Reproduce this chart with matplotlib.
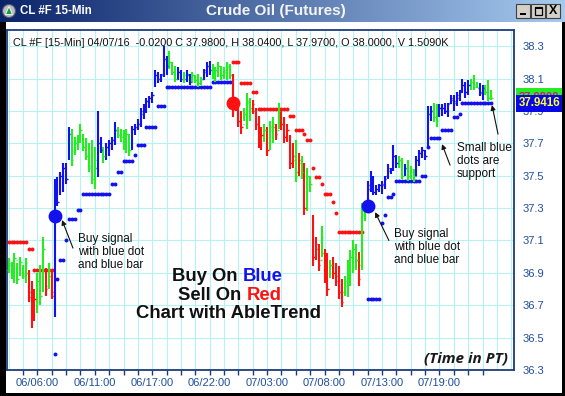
import numpy as np
import matplotlib
matplotlib.use("Agg")
import matplotlib.pyplot as plt
from matplotlib.patches import Rectangle, Circle, Polygon
from matplotlib.transforms import Affine2D

plt.rcParams['font.family'] = ['Liberation Sans', 'DejaVu Sans']

# 15-min bars (one value per bar)
highs = [36.99, 36.97, 37.02, 36.96, 37.00, 36.95, 36.99, 36.92, 36.85, 36.80,
         36.90, 36.95, 37.12, 36.93, 36.96, 36.92, 37.48, 37.49, 37.52, 37.58,
         37.58, 37.80, 37.79, 37.74, 37.75, 37.82, 37.76, 37.73, 37.70, 37.72,
         37.68, 37.90, 37.74, 37.68, 37.70, 37.72, 37.74, 37.83, 37.80, 37.79,
         37.78, 37.79, 37.76, 37.81, 37.82, 37.85, 37.92, 37.94, 37.98, 37.99,
         38.02, 38.15, 38.14, 38.13, 38.30, 38.24, 38.27, 38.20, 38.18, 38.17,
         38.15, 38.14, 38.15, 38.13, 38.14, 38.12, 38.13, 38.11, 38.16, 38.20,
         38.21, 38.19, 38.17, 38.20, 38.18, 38.17, 38.20, 38.19, 38.13, 37.98,
         37.96, 37.90, 37.92, 38.01, 37.98, 37.97, 37.92, 37.87, 37.80, 37.82,
         37.80, 37.84, 37.86, 37.82, 37.95, 37.91, 37.86, 37.82, 37.75, 37.70,
         37.72, 37.64, 37.62, 37.58, 37.55, 37.50, 37.26, 37.12, 37.08, 37.19,
         37.05, 37.02, 36.98, 37.00, 36.96, 36.94, 36.86, 36.88, 36.98, 37.04,
         37.10, 37.08, 37.03, 37.33, 37.30, 37.47, 37.53, 37.50, 37.44, 37.45,
         37.47, 37.50, 37.57, 37.55, 37.69, 37.63, 37.62, 37.61, 37.57, 37.60,
         37.56, 37.54, 37.62, 37.66, 37.68, 37.66, 37.93, 37.93, 37.95, 37.94,
         37.94, 37.94, 37.95, 37.95, 38.00, 38.00, 38.02, 38.03, 38.10, 38.08,
         38.09, 38.10, 38.12, 38.08, 38.07, 38.06, 38.06, 38.09, 38.03]
lows = [36.90, 36.86, 36.84, 36.83, 36.88, 36.86, 36.84, 36.72, 36.56, 36.60,
        36.65, 36.70, 36.78, 36.76, 36.80, 36.74, 36.63, 37.31, 37.38, 37.40,
        37.45, 37.60, 37.56, 37.63, 37.66, 37.70, 37.65, 37.60, 37.52, 37.45,
        37.42, 37.49, 37.64, 37.58, 37.60, 37.62, 37.66, 37.69, 37.73, 37.71,
        37.66, 37.64, 37.62, 37.66, 37.75, 37.78, 37.80, 37.85, 37.89, 37.92,
        37.95, 38.05, 38.07, 38.08, 38.11, 38.12, 38.16, 38.12, 38.08, 38.09,
        38.08, 38.07, 38.08, 38.06, 38.07, 38.07, 38.05, 38.06, 38.09, 38.11,
        38.12, 38.10, 38.08, 38.11, 38.09, 38.10, 38.09, 38.10, 37.86, 37.90,
        37.80, 37.76, 37.84, 37.79, 37.84, 37.88, 37.78, 37.67, 37.66, 37.71,
        37.62, 37.66, 37.70, 37.72, 37.79, 37.78, 37.70, 37.71, 37.54, 37.55,
        37.46, 37.50, 37.48, 37.26, 37.28, 37.40, 36.94, 36.98, 36.91, 37.00,
        36.84, 36.76, 36.87, 36.86, 36.82, 36.74, 36.69, 36.76, 36.75, 36.82,
        36.90, 36.92, 36.82, 36.92, 37.22, 37.30, 37.40, 37.38, 37.38, 37.40,
        37.39, 37.42, 37.48, 37.51, 37.53, 37.55, 37.55, 37.48, 37.50, 37.47,
        37.48, 37.46, 37.50, 37.56, 37.61, 37.60, 37.68, 37.84, 37.83, 37.80,
        37.86, 37.87, 37.88, 37.86, 37.94, 37.90, 37.93, 37.96, 38.01, 37.98,
        38.00, 38.03, 38.03, 38.04, 37.99, 37.97, 38.00, 37.96, 37.97]
opens = [36.92, 36.95, 36.88, 36.98, 36.90, 36.94, 36.88, 36.90, 36.78, 36.63,
         36.70, 36.84, 36.80, 36.90, 36.82, 36.88, 36.76, 37.40, 37.40, 37.45,
         37.55, 37.62, 37.76, 37.65, 37.70, 37.72, 37.76, 37.70, 37.62, 37.55,
         37.48, 37.55, 37.70, 37.66, 37.62, 37.66, 37.70, 37.72, 37.78, 37.75,
         37.74, 37.70, 37.75, 37.68, 37.78, 37.80, 37.82, 37.88, 37.92, 37.95,
         37.97, 38.06, 38.12, 38.10, 38.13, 38.22, 38.18, 38.18, 38.14, 38.10,
         38.13, 38.10, 38.10, 38.12, 38.08, 38.11, 38.10, 38.08, 38.10, 38.14,
         38.18, 38.15, 38.12, 38.15, 38.17, 38.12, 38.14, 38.17, 38.12, 37.93,
         37.94, 37.85, 37.82, 37.86, 37.95, 37.92, 37.90, 37.82, 37.70, 37.74,
         37.76, 37.68, 37.78, 37.80, 37.78, 37.88, 37.82, 37.75, 37.72, 37.60,
         37.60, 37.52, 37.58, 37.52, 37.32, 37.48, 37.22, 37.00, 37.05, 36.98,
         37.02, 36.90, 36.88, 36.95, 36.90, 36.88, 36.78, 36.78, 36.82, 36.90,
         36.98, 37.02, 36.98, 36.95, 37.26, 37.32, 37.42, 37.46, 37.40, 37.41,
         37.42, 37.44, 37.50, 37.53, 37.55, 37.60, 37.58, 37.58, 37.52, 37.55,
         37.50, 37.52, 37.50, 37.58, 37.63, 37.64, 37.70, 37.88, 37.90, 37.86,
         37.88, 37.90, 37.92, 37.90, 37.95, 37.97, 37.96, 37.98, 38.03, 38.05,
         38.02, 38.06, 38.08, 38.06, 38.04, 38.01, 38.03, 38.04, 37.99]
closes = [36.96, 36.88, 36.99, 36.86, 36.97, 36.89, 36.96, 36.75, 36.62, 36.74,
          36.85, 36.76, 37.05, 36.80, 36.92, 36.78, 37.40, 37.34, 37.50, 37.55,
          37.48, 37.76, 37.60, 37.70, 37.72, 37.78, 37.68, 37.62, 37.56, 37.48,
          37.60, 37.70, 37.66, 37.62, 37.68, 37.70, 37.72, 37.78, 37.75, 37.74,
          37.70, 37.76, 37.66, 37.79, 37.80, 37.82, 37.90, 37.92, 37.96, 37.98,
          38.00, 38.12, 38.10, 38.12, 38.22, 38.18, 38.20, 38.14, 38.10, 38.14,
          38.10, 38.12, 38.13, 38.08, 38.12, 38.09, 38.07, 38.10, 38.15, 38.18,
          38.15, 38.12, 38.15, 38.18, 38.12, 38.15, 38.18, 38.12, 37.92, 37.95,
          37.84, 37.80, 37.88, 37.96, 37.90, 37.94, 37.82, 37.70, 37.75, 37.78,
          37.66, 37.80, 37.82, 37.76, 37.90, 37.82, 37.74, 37.78, 37.58, 37.62,
          37.50, 37.60, 37.52, 37.30, 37.50, 37.45, 37.00, 37.08, 36.95, 37.12,
          36.88, 36.80, 36.95, 36.90, 36.85, 36.78, 36.72, 36.85, 36.95, 37.00,
          37.05, 36.98, 36.86, 37.28, 37.28, 37.44, 37.48, 37.40, 37.42, 37.44,
          37.45, 37.48, 37.55, 37.54, 37.62, 37.58, 37.60, 37.50, 37.55, 37.50,
          37.54, 37.48, 37.60, 37.64, 37.66, 37.62, 37.88, 37.90, 37.86, 37.84,
          37.92, 37.92, 37.90, 37.94, 37.98, 37.95, 38.00, 38.02, 38.06, 38.02,
          38.06, 38.08, 38.05, 38.05, 38.02, 38.04, 38.02, 37.98, 37.98]
# B = uptrend (blue), R = downtrend (red), G = neutral (green)
bar_colors = ("GGGGGGGRRR" "GGGRGRBBBB" "BBGGGGGGGG" "GBBGBBBBGG" "GGGBBBBBBB"
              "BBBBBBGGGB" "BGBBGGGGBB" "BGGGGGGGRR" "RRGGGRRRRG" "RGGRGRRRRR"
              "GRGRGGRRRG" "RRGRRRRGGG" "GGRGGBBBBB" "BBBBBBGGBG" "GGBBBBBBGG"
              "BBBBBBBBBB" "BGGGBBGGG")
# AbleTrend stop dots (support below in blue, resistance above in red)
stops = [37.09, 37.09, 37.09, 37.09, 37.09, 37.09, 37.09, 37.05, 37.05, 36.92,
         36.92, 36.92, 36.92, 36.92, 36.92, 36.92, 36.40, 36.86, 36.98, 36.98,
         37.10, 37.23, 37.23, 37.23, 37.29, 37.29, 37.39, 37.39, 37.39, 37.39,
         37.39, 37.39, 37.39, 37.39, 37.39, 37.39, 37.45, 37.45, 37.52, 37.52,
         37.59, 37.59, 37.59, 37.59, 37.63, 37.69, 37.69, 37.69, 37.80, 37.80,
         37.80, 37.80, 37.93, 37.93, 37.93, 38.05, 38.05, 38.05, 38.05, 38.05,
         38.05, 38.05, 38.05, 38.05, 38.05, 38.05, 38.05, 38.05, 38.05, 38.05,
         38.05, 38.08, 38.08, 38.08, 38.08, 38.08, 38.08, 38.08, 38.20, 38.20,
         38.20, 38.07, 38.07, 38.07, 38.07, 38.02, 38.02, 37.91, 37.91, 37.91,
         37.91, 37.91, 37.91, 37.91, 37.91, 37.91, 37.91, 37.91, 37.87, 37.87,
         37.78, 37.78, 37.78, 37.76, 37.72, 37.72, 37.55, 37.49, 37.49, 37.45,
         37.39, 37.39, 37.39, 37.34, 37.27, 37.15, 37.15, 37.15, 37.15, 37.15,
         37.15, 37.15, 37.15, 37.15, np.nan, 36.74, 36.74, 36.74, 36.74, 36.74,
         37.21, 37.26, 37.37, 37.37, 37.39, 37.47, 37.47, 37.47, 37.47, 37.47,
         37.47, 37.47, 37.47, 37.47, 37.50, 37.50, 37.68, 37.73, 37.73, 37.73,
         37.73, 37.78, 37.78, 37.78, 37.78, 37.86, 37.86, 37.88, 37.95, 37.95,
         37.95, 37.95, 37.95, 37.95, 37.95, 37.95, 37.95, 37.95, 37.95]
stop_side = "R" * 16 + "B" * 62 + "R" * 46 + "-" + "B" * 44

signal_bars = [16, 78, 125]
signal_prices = [37.25, 37.95, 37.31]
signal_side = "BRB"

label_bars = [10, 30, 50, 70, 90, 110, 130, 150]
tick_labels = ["06/06:00", "06/11:00", "06/17:00", "06/22:00",
               "07/03:00", "07/08:00", "07/13:00", "07/19:00"]
y_ticks = [36.3, 36.5, 36.7, 36.9, 37.1, 37.3, 37.5, 37.7, 37.9, 38.1, 38.3]
last_price = 37.9416
prev_price = 37.9800
header = "CL #F [15-Min] 04/07/16  -0.0200 C 37.9800, H 38.0400, L 37.9700, O 38.0000, V 1.5090K"

BLUE = '#1212ee'
RED = '#ff1111'
GREEN = '#22ee22'
cmap = {'B': BLUE, 'R': RED, 'G': GREEN}
NAVY = '#1c3c7c'
LABEL = '#1f4f9f'

W, H = 565, 396
fig = plt.figure(figsize=(W / 100, H / 100), dpi=100)
fig.patch.set_facecolor('white')
# pixel coordinates, y pointing down
pix = Affine2D().scale(1, -1).translate(0, H).scale(1 / 100) + fig.dpi_scale_trans

# window title bar with gradient
tb = fig.add_axes([0, 1 - 22 / H, 1, 22 / H])
grad = np.linspace(0, 1, 256)
c0 = np.array([10, 36, 106]) / 255
c1 = np.array([166, 202, 240]) / 255
img = c0[None, None, :] + (c1 - c0)[None, None, :] * grad[None, :, None]
tb.imshow(img, aspect='auto', extent=[0, 1, 0, 1])
tb.set_axis_off()

fig.text(20 / W, 1 - 11.5 / H, "CL #F 15-Min", color='white', fontsize=8.3,
         fontweight='bold', va='center', ha='left')
fig.text(276 / W, 1 - 11.5 / H, "Crude Oil (Futures)", color='#f4f4f4', fontsize=11,
         fontweight='bold', va='center', ha='center')
fig.patches.append(Circle((9, 11), 6.5, transform=pix, facecolor='#b8bcc4',
                          edgecolor='#505868', lw=0.8, zorder=5))
fig.patches.append(Polygon([(5.5, 14.5), (12.5, 14.5), (9, 6.5)], closed=True,
                           transform=pix, facecolor='#1a9a3a', edgecolor='white',
                           lw=0.6, zorder=6))
for bx in [516, 531, 546]:
    fig.patches.append(Rectangle((bx, 4), 14, 14, transform=pix, facecolor='#d4d0c8',
                                 edgecolor='#404040', lw=0.8, zorder=5))
fig.patches.append(Rectangle((520, 13), 6, 2, transform=pix, facecolor='black', zorder=6))
fig.patches.append(Rectangle((534.5, 7), 7.5, 7.5, transform=pix, facecolor='none',
                             edgecolor='black', lw=0.9, zorder=6))
fig.patches.append(Rectangle((534.5, 7), 7.5, 1.5, transform=pix, facecolor='black', zorder=6))
fig.text(553 / W, 1 - 11.5 / H, "X", fontsize=9, fontweight='bold', ha='center',
         va='center', color='black', zorder=7)

# main chart
ax = fig.add_axes([7 / W, 26 / H, 507 / W, 340 / H])
ax.set_xlim(-0.57, 175.96)
ax.set_ylim(36.3, 38.4)

for k in range(0, 176, 5):
    ax.axvline(k, color='#b6f2f2', lw=0.8, zorder=0)
for yv in y_ticks:
    ax.axhline(yv, color='#b6f2f2', lw=0.8, zorder=0)

idx = np.arange(len(highs))
cols = [cmap[c] for c in bar_colors]

stops = np.array(stops)
for side in 'BR':
    m = np.array([s == side for s in stop_side])
    ax.scatter(idx[m], stops[m], s=8, color=cmap[side], linewidths=0, zorder=2)

ax.vlines(idx, lows, highs, colors=cols, lw=1.5, zorder=3)
ax.hlines(opens, idx - 0.5, idx, colors=cols, lw=1.0, zorder=3)
ax.hlines(closes, idx, idx + 0.5, colors=cols, lw=1.0, zorder=3)

for b, p, s in zip(signal_bars, signal_prices, signal_side):
    ax.plot(b, p, 'o', color=cmap[s], markersize=10, markeredgewidth=0, zorder=4)

for sp in ax.spines.values():
    sp.set_color(NAVY)
    sp.set_linewidth(1.3)

ticks = list(range(5, 166, 5))
ax.set_xticks(ticks)
ax.set_xticklabels([tick_labels[label_bars.index(t)] if t in label_bars else ''
                    for t in ticks])
ax.tick_params(axis='x', direction='out', length=3.5, width=1, color=NAVY,
               labelsize=8, labelcolor=LABEL, pad=2.5)
ax.yaxis.tick_right()
ax.set_yticks(y_ticks)
ax.set_yticklabels(['%.1f' % v for v in y_ticks])
ax.tick_params(axis='y', length=0, labelsize=8, labelcolor=LABEL, pad=6.5)
# the 37.9 label sits under the last-price tag: only its lower edge shows
for lab, v in zip(ax.get_yticklabels(), y_ticks):
    if v == 37.9:
        lab.set_clip_on(True)
        lab.set_clip_path(Rectangle((516, 112), 46, 8, transform=pix))

ax.text(1.5, 38.318, header, fontsize=7.8, color='#111111', va='center', ha='left')

# annotations
note = dict(fontsize=8.5, color='#111111', ha='left', va='center', linespacing=1.15)
arrow = dict(arrowstyle='-|>', color='#111111', lw=0.8, mutation_scale=7,
             shrinkA=0, shrinkB=0)
ax.text(24.2, 37.028, "Buy signal\nwith blue dot\nand blue bar", **note)
ax.annotate("", xy=(18.6, 37.226), xytext=(22.4, 37.053), arrowprops=arrow)
ax.text(134.2, 37.06, "Buy signal\nwith blue dot\nand blue bar", **note)
ax.annotate("", xy=(127.6, 37.275), xytext=(132.4, 37.10), arrowprops=arrow)
ax.text(156.1, 37.59, "Small blue\ndots are\nsupport", **note)
ax.annotate("", xy=(150.9, 37.695), xytext=(153.7, 37.565), arrowprops=arrow)
ax.annotate("", xy=(168.3, 37.936), xytext=(170.4, 37.757), arrowprops=arrow)

fs_big = 13.3
big = dict(fontsize=fs_big, fontweight='bold', color='#111111', va='center')
t1 = ax.text(81.6, 36.88, "Buy On ", ha='right', **big)
ax.annotate("Blue", xy=(1, 0.5), xycoords=t1, ha='left', va='center',
            fontsize=fs_big, fontweight='bold', color=BLUE)
t2 = ax.text(82.9, 36.763, "Sell On ", ha='right', **big)
ax.annotate("Red", xy=(1, 0.5), xycoords=t2, ha='left', va='center',
            fontsize=fs_big, fontweight='bold', color=RED)
ax.text(76.7, 36.646, "Chart with AbleTrend", ha='center', **big)

ax.text(173.9, 36.374, "(Time in PT)", ha='right', va='center', fontsize=11,
        fontweight='bold', fontstyle='italic', color='#1a1a1a', family='Open Sans')

# last price tags on the right scale
fig.patches.append(Rectangle((516, 87.5), 46, 14, transform=pix, facecolor=GREEN,
                             edgecolor='none', zorder=8))
prev_txt = fig.text(539 / W, 1 - 97 / H, '%.4f' % prev_price, fontsize=8, fontweight='bold',
                    color='#e0108a', ha='center', va='center', zorder=9)
prev_txt.set_clip_on(True)
prev_txt.set_clip_path(Rectangle((516, 87.5), 46, 7.5, transform=pix))
fig.patches.append(Rectangle((516, 95), 46, 17, transform=pix, facecolor='#0808e6',
                             edgecolor='none', zorder=10))
fig.text(539.5 / W, 1 - 103.5 / H, '%.4f' % last_price, fontsize=8.3, fontweight='bold',
         color='#ffff33', ha='center', va='center', zorder=11)

# black window frame
for r in [(0, 22, 6, 374), (0, 393, W, 3), (562, 22, 3, 374)]:
    fig.patches.append(Rectangle(r[:2], r[2], r[3], transform=pix, facecolor='black',
                                 edgecolor='none', zorder=12))

fig.savefig('out.png', dpi=100)
